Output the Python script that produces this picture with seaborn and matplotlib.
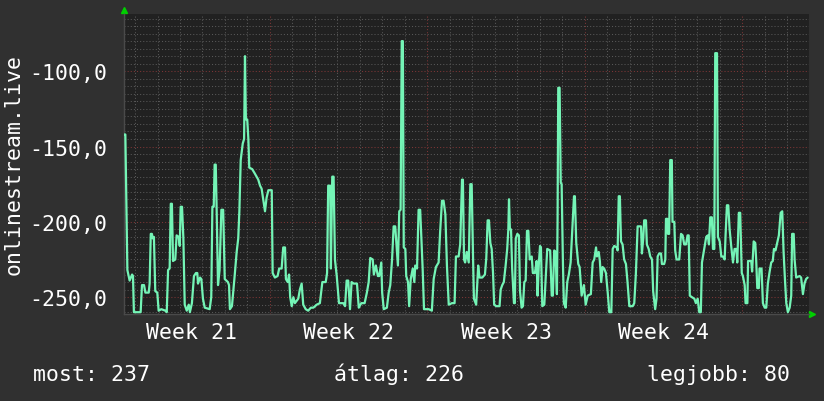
import matplotlib
matplotlib.use("Agg")

import matplotlib.pyplot as plt
import numpy as np
import pandas as pd
import seaborn as sns
from matplotlib.ticker import FixedLocator, FuncFormatter


# time in days from the left edge of the graph, signal level per sample
days = [
    0.00, 0.06, 0.15, 0.25, 0.36, 0.40, 0.44, 0.74, 0.80, 0.89,
    0.95, 1.10, 1.14, 1.19, 1.24, 1.28, 1.33, 1.39, 1.48, 1.54,
    1.66, 1.84, 1.90, 1.96, 2.03, 2.08, 2.13, 2.18, 2.28, 2.34,
    2.43, 2.48, 2.52, 2.58, 2.64, 2.70, 2.79, 2.88, 2.93, 3.02,
    3.11, 3.20, 3.26, 3.29, 3.38, 3.44, 3.51, 3.59, 3.81, 3.88,
    3.93, 3.99, 4.03, 4.08, 4.12, 4.18, 4.25, 4.33, 4.41, 4.48,
    4.62, 4.67, 4.71, 4.80, 4.92, 5.01, 5.08, 5.13, 5.19, 5.28,
    5.34, 5.38, 5.42, 5.48, 5.53, 5.57, 5.70, 5.82, 5.97, 6.05,
    6.12, 6.19, 6.27, 6.34, 6.42, 6.57, 6.61, 6.71, 6.83, 6.90,
    7.01, 7.08, 7.16, 7.20, 7.28, 7.34, 7.39, 7.46, 7.53, 7.60,
    7.75, 7.82, 7.90, 7.97, 8.08, 8.19, 8.31, 8.42, 8.57, 8.71,
    8.82, 8.97, 9.03, 9.08, 9.17, 9.20, 9.26, 9.32, 9.38, 9.46,
    9.56, 9.75, 9.83, 9.90, 9.97, 10.05, 10.12, 10.21, 10.36, 10.44,
    10.55, 10.70, 10.80, 10.88, 10.95, 11.06, 11.11, 11.20, 11.29, 11.35,
    11.44, 11.48, 11.55, 11.69, 11.77, 11.84, 11.92, 11.99, 12.06, 12.11,
    12.18, 12.24, 12.30, 12.35, 12.40, 12.44, 12.51, 12.55, 12.63, 12.68,
    12.75, 12.84, 12.91, 12.95, 13.03, 13.10, 13.17, 13.22, 13.28, 13.34,
    13.55, 13.69, 13.77, 13.87, 13.99, 14.06, 14.14, 14.21, 14.29, 14.36,
    14.44, 14.58, 14.70, 14.76, 14.88, 14.95, 15.03, 15.07, 15.12, 15.17,
    15.24, 15.33, 15.40, 15.46, 15.52, 15.56, 15.66, 15.75, 15.81, 15.93,
    16.05, 16.11, 16.17, 16.23, 16.29, 16.35, 16.41, 16.46, 16.55, 16.70,
    16.75, 16.82, 16.89, 16.97, 17.04, 17.09, 17.12, 17.16, 17.21, 17.26,
    17.34, 17.38, 17.42, 17.49, 17.56, 17.61, 17.68, 17.74, 17.80, 17.86,
    17.92, 17.98, 18.04, 18.13, 18.18, 18.27, 18.35, 18.39, 18.45, 18.50,
    18.54, 18.60, 18.69, 18.75, 18.82, 18.95, 19.02, 19.07, 19.13, 19.19,
    19.25, 19.28, 19.31, 19.37, 19.42, 19.46, 19.52, 19.56, 19.64, 19.71,
    19.78, 19.86, 19.93, 20.01, 20.05, 20.11, 20.20, 20.26, 20.35, 20.45,
    20.53, 20.62, 20.76, 20.84, 20.91, 20.99, 21.03, 21.11, 21.16, 21.22,
    21.28, 21.35, 21.43, 21.51, 21.58, 21.67, 21.73, 21.80, 21.91, 21.95,
    22.00, 22.05, 22.10, 22.17, 22.24, 22.32, 22.39, 22.47, 22.62, 22.69,
    22.76, 22.84, 22.99, 23.03, 23.09, 23.13, 23.21, 23.25, 23.33, 23.40,
    23.48, 23.53, 23.62, 23.68, 23.73, 23.80, 23.88, 23.92, 24.02, 24.07,
    24.10, 24.16, 24.19, 24.24, 24.29, 24.36, 24.39, 24.47, 24.51, 24.57,
    24.69, 24.77, 24.84, 24.91, 24.99, 25.06, 25.11, 25.16, 25.25, 25.36,
    25.43, 25.51, 25.58, 25.65, 25.70, 25.82, 25.89, 25.96, 26.01, 26.07,
    26.14, 26.19, 26.25, 26.29, 26.37, 26.41, 26.49, 26.56, 26.63, 26.71,
    26.75, 26.81, 26.87, 26.93, 27.00, 27.08, 27.15, 27.23, 27.27, 27.34,
    27.40, 27.47, 27.52, 27.60, 27.64, 27.72, 27.75, 27.89, 27.93, 28.00,
    28.07, 28.11, 28.16, 28.23, 28.26, 28.35, 28.41, 28.49, 28.56, 28.63,
    28.71, 28.78, 28.85, 28.90, 28.97, 29.03, 29.12, 29.20, 29.27, 29.33,
    29.39, 29.45, 29.52, 29.60, 29.67, 29.71, 29.78, 29.82, 29.89, 30.04,
    30.11, 30.19, 30.26, 30.33, 30.40,
]
signal = [
    -142, -142, -232, -239, -235, -236, -260, -260, -242, -242,
    -247, -247, -241, -208, -208, -211, -210, -246, -247, -259,
    -258, -259, -260, -232, -231, -188, -188, -226, -225, -209,
    -210, -216, -190, -190, -211, -255, -259, -255, -260, -254,
    -236, -234, -234, -241, -237, -238, -251, -257, -258, -250,
    -190, -190, -162, -162, -192, -242, -232, -192, -192, -238,
    -240, -242, -258, -256, -236, -220, -211, -193, -159, -148,
    -145, -90, -132, -132, -145, -164, -165, -168, -172, -176,
    -178, -185, -193, -184, -179, -179, -234, -237, -236, -231,
    -231, -217, -217, -238, -240, -235, -250, -256, -250, -254,
    -251, -245, -241, -255, -258, -259, -257, -257, -255, -254,
    -240, -240, -234, -176, -176, -231, -170, -170, -225, -236,
    -254, -254, -256, -239, -239, -258, -240, -241, -241, -257,
    -254, -254, -247, -240, -224, -225, -235, -229, -236, -236,
    -227, -247, -258, -257, -247, -242, -225, -203, -203, -214,
    -229, -193, -192, -80, -80, -217, -218, -236, -240, -256,
    -238, -231, -240, -229, -231, -192, -192, -209, -231, -258,
    -258, -259, -238, -230, -227, -206, -186, -186, -195, -229,
    -255, -254, -254, -223, -223, -215, -172, -172, -225, -227,
    -220, -227, -175, -175, -223, -251, -255, -229, -237, -237,
    -235, -224, -199, -199, -214, -218, -234, -255, -256, -256,
    -245, -242, -240, -229, -218, -205, -185, -205, -205, -231,
    -254, -254, -211, -208, -209, -246, -257, -256, -240, -239,
    -206, -206, -225, -223, -234, -234, -226, -249, -227, -216,
    -217, -256, -255, -238, -218, -219, -249, -249, -219, -220,
    -248, -198, -111, -111, -174, -175, -229, -254, -257, -240,
    -235, -227, -206, -183, -183, -214, -228, -230, -249, -242,
    -255, -249, -248, -227, -225, -217, -223, -220, -226, -240,
    -230, -231, -234, -247, -260, -260, -218, -216, -217, -219,
    -183, -183, -213, -215, -225, -228, -240, -256, -256, -254,
    -235, -203, -203, -221, -211, -199, -199, -215, -218, -223,
    -225, -246, -258, -251, -223, -221, -221, -228, -228, -225,
    -198, -198, -208, -208, -159, -159, -200, -200, -219, -225,
    -225, -208, -209, -215, -215, -209, -209, -249, -250, -251,
    -254, -251, -260, -260, -227, -216, -210, -209, -215, -197,
    -197, -218, -218, -88, -88, -210, -213, -223, -223, -225,
    -209, -189, -189, -205, -216, -227, -218, -218, -227, -194,
    -194, -234, -236, -242, -254, -254, -226, -226, -233, -213,
    -214, -225, -244, -244, -231, -231, -254, -257, -257, -241,
    -233, -227, -226, -218, -219, -215, -209, -194, -193, -220,
    -238, -254, -260, -257, -249, -208, -208, -225, -237, -236,
    -237, -248, -241, -238, -237,
]
assert len(days) == len(signal)

week_numbers = [21, 22, 23, 24]
week_starts = [-0.51, 6.49, 13.49, 20.49, 27.49]
y_labels_at = [-250, -200, -150, -100]
stat_names = ["most", "átlag", "legjobb"]
stat_values = [237, 226, 80]
source_name = "onlinestream.live"

X_RANGE = (0, 30.46)
Y_RANGE = (-261.2, -61.8)

BG = "#303030"
PLOT_BG = "#212121"
LINE = "#74f4b6"
MINOR = "#585858"
MAJOR = "#7e3636"
AXIS = "#4a4a4a"
ARROW = "#00d000"
TEXT = "#ffffff"
FS = 15.5


def comma_format(value, _pos):
    return f"{value:.1f}".replace(".", ",")


def main() -> None:
    sns.set_style("dark")
    plt.rcParams["font.family"] = ["DejaVu Sans Mono", "DejaVu Sans"]

    fig = plt.figure(figsize=(8.24, 4.02), dpi=100, facecolor=BG)
    ax = fig.add_axes([124 / 824, 87 / 402, 685 / 824, 300.3 / 402])
    ax.set_facecolor(PLOT_BG)

    frame = pd.DataFrame({"day": days, "signal": signal})
    sns.lineplot(
        data=frame, x="day", y="signal", ax=ax, color=LINE, linewidth=1.6,
        estimator=None, sort=False, zorder=5,
    )
    ax.set_xlim(*X_RANGE)
    ax.set_ylim(*Y_RANGE)

    # y axis: labelled (red) lines every 50, dotted minor lines every 5
    ax.yaxis.set_major_locator(FixedLocator(y_labels_at))
    ax.yaxis.set_minor_locator(FixedLocator(np.arange(-260, -60, 5)))
    ax.yaxis.set_major_formatter(FuncFormatter(comma_format))

    # x axis: labels mid-week, dotted daily lines, red line at each week start
    label_pos = [start + 3.5 for start in week_starts[:-1]]
    ax.xaxis.set_major_locator(FixedLocator(label_pos))
    ax.set_xticklabels([f"Week {n}" for n in week_numbers])
    daily = [d for d in np.arange(week_starts[0] + 1, X_RANGE[1], 1.0)
             if min(abs(d - s) for s in week_starts) > 0.1]
    ax.xaxis.set_minor_locator(FixedLocator(daily))

    dots = (0, (1, 2))
    ax.grid(False)
    ax.grid(which="minor", axis="both", color=MINOR, linestyle=dots, linewidth=0.75)
    ax.grid(which="major", axis="y", color=MAJOR, linestyle=dots, linewidth=0.75)
    for start in week_starts[1:]:
        ax.axvline(start, color=MAJOR, linestyle=dots, linewidth=0.75, zorder=1)

    ax.tick_params(which="minor", length=2, width=0.75, color=MINOR, direction="out")
    ax.tick_params(axis="y", which="major", length=2, width=0.75, color=MAJOR,
                   labelcolor=TEXT, labelsize=FS, pad=10)
    ax.tick_params(axis="x", which="major", length=0, labelcolor=TEXT,
                   labelsize=FS, pad=5.5)
    ax.set_xlabel("")
    ax.set_ylabel("")

    for side in ["top", "right"]:
        ax.spines[side].set_visible(False)
    for side in ["left", "bottom"]:
        ax.spines[side].set_color(AXIS)
        ax.spines[side].set_linewidth(1)

    ax.plot([0.0], [1.013], marker="^", color=ARROW, markersize=5,
            transform=ax.transAxes, clip_on=False)
    ax.plot([1.005], [0.0], marker=">", color=ARROW, markersize=5,
            transform=ax.transAxes, clip_on=False)

    fig.text(14 / 824, 0.59, source_name, rotation=90, ha="center", va="center",
             color=TEXT, fontsize=FS)

    stats = [f"{name}: {value}" for name, value in zip(stat_names, stat_values)]
    base = 21.3 / 402
    fig.text(33 / 824, base, stats[0], ha="left", va="baseline", color=TEXT, fontsize=FS)
    fig.text(334 / 824, base, stats[1], ha="left", va="baseline", color=TEXT, fontsize=FS)
    fig.text(790 / 824, base, stats[2], ha="right", va="baseline", color=TEXT, fontsize=FS)

    fig.savefig("out.png", dpi=100, facecolor=BG)
    plt.close(fig)


if __name__ == "__main__":
    main()
